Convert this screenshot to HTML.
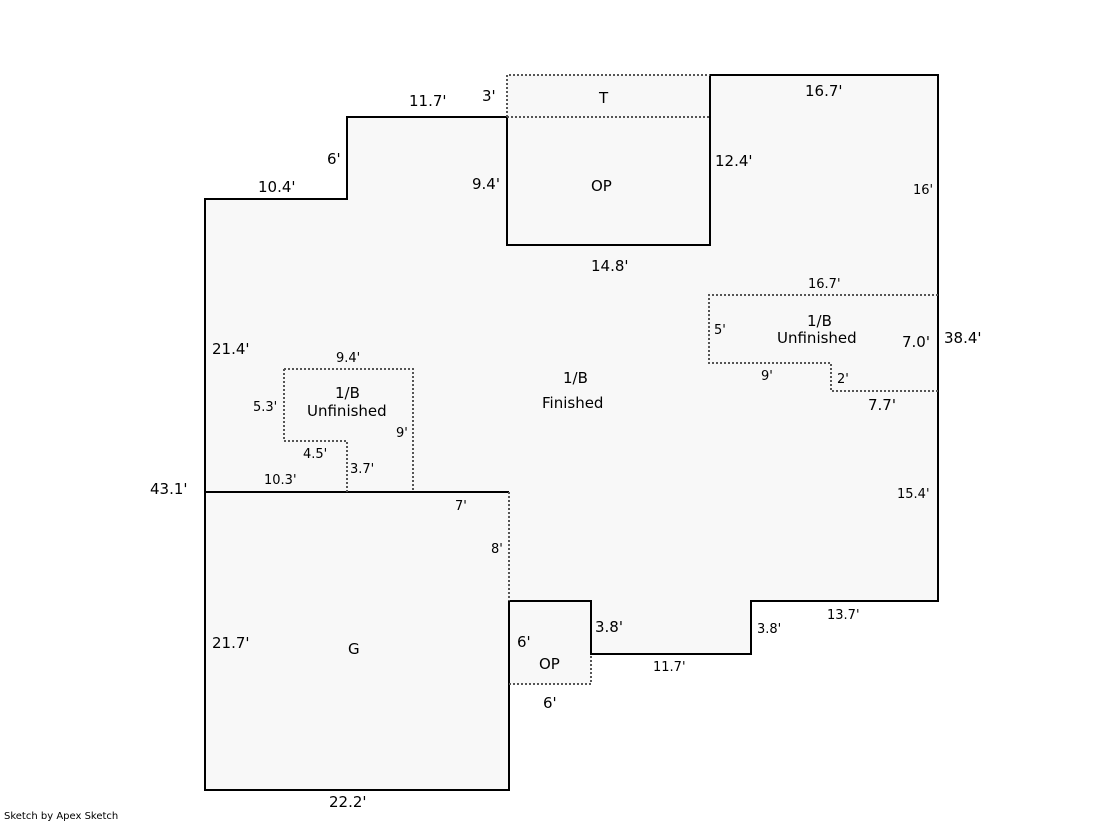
<!DOCTYPE html>
<html><head><style>body{margin:0;background:#fff}svg{display:block}text{font-family:"DejaVu Sans","Liberation Sans",sans-serif;fill:#000}</style></head><body>
<svg width="1119" height="821" viewBox="0 0 1119 821">
<g fill="#f8f8f8">
<path d="M205,199H347V117H507V245H710V75H938V601H751V654H591V601H509V790H205Z"/>
<rect x="507" y="75" width="203" height="42"/>
<rect x="507" y="117" width="203" height="128"/>
<rect x="509" y="601" width="82" height="83"/>
</g>
<g fill="none" stroke="#000" stroke-width="2">
<path d="M205,790V199H347V117H507V245H710V75H938V601H751V654H591V601H509V790Z"/>
<path d="M507,117V245"/>
<path d="M205,492H509"/>
</g>
<g fill="none" stroke="#555" stroke-width="2" stroke-dasharray="2,2">
<path d="M507,117V75H710M507,117H710"/>
<path d="M509,684H591V654"/>
<path d="M509,492V601"/>
<path d="M284,369H413V492M284,369V441H347V492"/>
<path d="M938,295H709V363H831V391H938"/>
</g>
<g font-size="15">
<text x="409" y="106">11.7'</text><text x="482" y="101">3'</text><text x="599" y="103">T</text>
<text x="805" y="96">16.7'</text><text x="327" y="164">6'</text><text x="258" y="192">10.4'</text>
<text x="472" y="189">9.4'</text><text x="591" y="191">OP</text><text x="715" y="166">12.4'</text>
<text x="591" y="271">14.8'</text><text x="212" y="354">21.4'</text>
<text x="563" y="383">1/B</text><text x="542" y="408">Finished</text>
<text x="335" y="398">1/B</text><text x="307" y="416">Unfinished</text>
<text x="807" y="326">1/B</text><text x="777" y="343">Unfinished</text>
<text x="902" y="347">7.0'</text><text x="944" y="343">38.4'</text>
<text x="868" y="410">7.7'</text><text x="150" y="494">43.1'</text>
<text x="212" y="648">21.7'</text><text x="348" y="654">G</text>
<text x="517" y="647">6'</text><text x="595" y="632">3.8'</text><text x="539" y="669">OP</text>
<text x="543" y="708">6'</text><text x="329" y="807">22.2'</text>
</g>
<g font-size="13">
<text x="913" y="194">16'</text><text x="808" y="288">16.7'</text><text x="714" y="334">5'</text>
<text x="761" y="380">9'</text><text x="837" y="383">2'</text>
<text x="336" y="362">9.4'</text><text x="253" y="411">5.3'</text><text x="396" y="437">9'</text>
<text x="303" y="458">4.5'</text><text x="350" y="473">3.7'</text><text x="264" y="484">10.3'</text>
<text x="455" y="510">7'</text><text x="491" y="553">8'</text><text x="897" y="498">15.4'</text>
<text x="757" y="633">3.8'</text><text x="827" y="619">13.7'</text><text x="653" y="671">11.7'</text>
</g>
<text x="4" y="819" font-size="10">Sketch by Apex Sketch</text>
</svg>
</body></html>
